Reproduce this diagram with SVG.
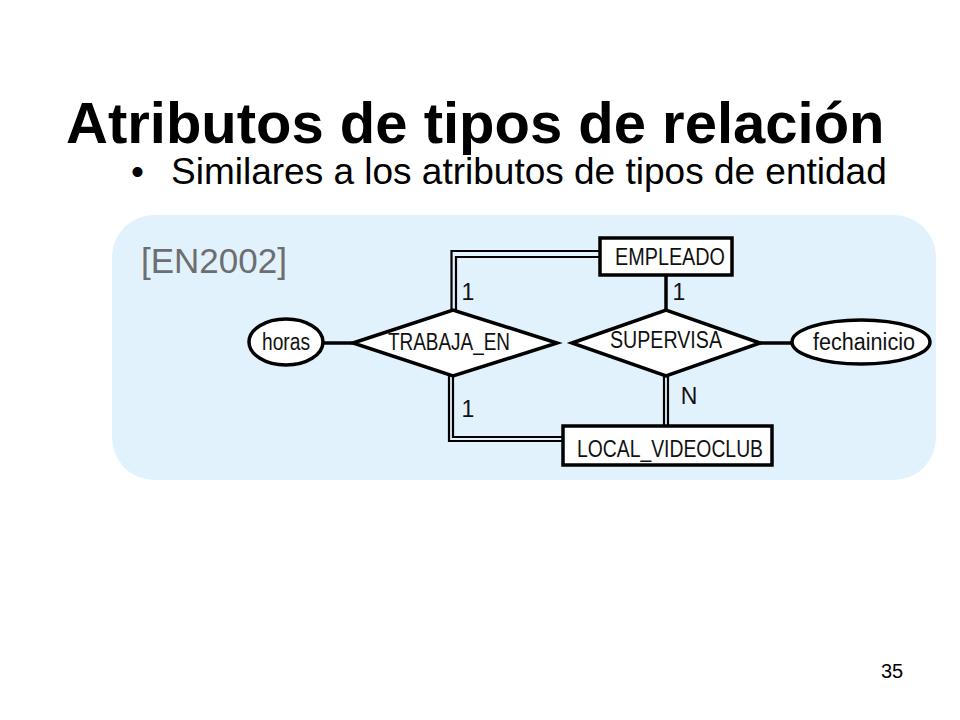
<svg xmlns="http://www.w3.org/2000/svg" width="960" height="720" viewBox="0 0 960 720">
<style>
.t{font-family:"Liberation Sans",Arial,sans-serif;fill:#000}
.lbl{font-family:"Liberation Sans",Arial,sans-serif;font-size:23px;fill:#111}
.shape{fill:#fff;stroke:#000;stroke-width:3.5}
.ln{fill:none;stroke:#000;stroke-width:3.5}
.dl{fill:none;stroke:#000;stroke-width:2.2}
</style>
<rect x="0" y="0" width="960" height="720" fill="#fff"/>
<text class="t" x="66" y="143" font-size="58" font-weight="bold">Atributos de tipos de relación</text>
<text class="t" x="131" y="184" font-size="37">•</text>
<text class="t" x="171" y="184" font-size="37">Similares a los atributos de tipos de entidad</text>
<rect id="panel" x="112" y="215" width="824" height="265" rx="42" ry="42" fill="#E1F2FD"/>
<text x="141" y="273" font-family="Liberation Sans,Arial,sans-serif" font-size="35" fill="#6E6E6E">[EN2002]</text>
<g id="connectors">
<line class="ln" x1="323" y1="343" x2="354" y2="343"/>
<line class="ln" x1="758" y1="343" x2="793" y2="343"/>
<line class="ln" x1="666" y1="275" x2="666" y2="311"/>
<polyline class="dl" points="451.5,311 451.5,251 600,251"/>
<polyline class="dl" points="456,311 456,257 600,257"/>
<polyline class="dl" points="449,375 449,441 563,441"/>
<polyline class="dl" points="453,375 453,437 563,437"/>
<line class="dl" x1="664" y1="375" x2="664" y2="426"/>
<line class="dl" x1="668" y1="375" x2="668" y2="426"/>
<text class="lbl" x="468" y="300" text-anchor="middle" font-size="22">1</text>
<text class="lbl" x="679" y="300" text-anchor="middle" font-size="22">1</text>
<text class="lbl" x="468" y="417" text-anchor="middle" font-size="22">1</text>
<text class="lbl" x="689" y="404" text-anchor="middle" font-size="20">N</text>
</g>
<g id="empleado">
<rect class="shape" x="600" y="238" width="132" height="37"/>
<text class="lbl" x="670" y="265" text-anchor="middle" font-size="24" textLength="110" lengthAdjust="spacingAndGlyphs">EMPLEADO</text>
</g>
<g id="local_videoclub">
<rect class="shape" x="563" y="426" width="209" height="39"/>
<text class="lbl" x="670" y="457" text-anchor="middle" font-size="24" textLength="186" lengthAdjust="spacingAndGlyphs">LOCAL_VIDEOCLUB</text>
</g>
<g id="trabaja_en">
<polygon class="shape" points="353,343 453,310 557,343 453,376"/>
<text class="lbl" x="449" y="350" text-anchor="middle" textLength="122" lengthAdjust="spacingAndGlyphs">TRABAJA_EN</text>
</g>
<g id="supervisa">
<polygon class="shape" points="572,343 666,310 760,343 666,376"/>
<text class="lbl" x="666" y="348" text-anchor="middle" textLength="112" lengthAdjust="spacingAndGlyphs">SUPERVISA</text>
</g>
<g id="horas">
<ellipse class="shape" cx="286" cy="342" rx="37" ry="23"/>
<text class="lbl" x="286" y="350" text-anchor="middle" font-size="22" textLength="48" lengthAdjust="spacingAndGlyphs">horas</text>
</g>
<g id="fechainicio">
<ellipse class="shape" cx="861" cy="342" rx="69" ry="22"/>
<text class="lbl" x="864" y="350" text-anchor="middle" font-size="22" textLength="102" lengthAdjust="spacingAndGlyphs">fechainicio</text>
</g>
<text class="t" x="881" y="678" font-size="20">35</text>
</svg>
